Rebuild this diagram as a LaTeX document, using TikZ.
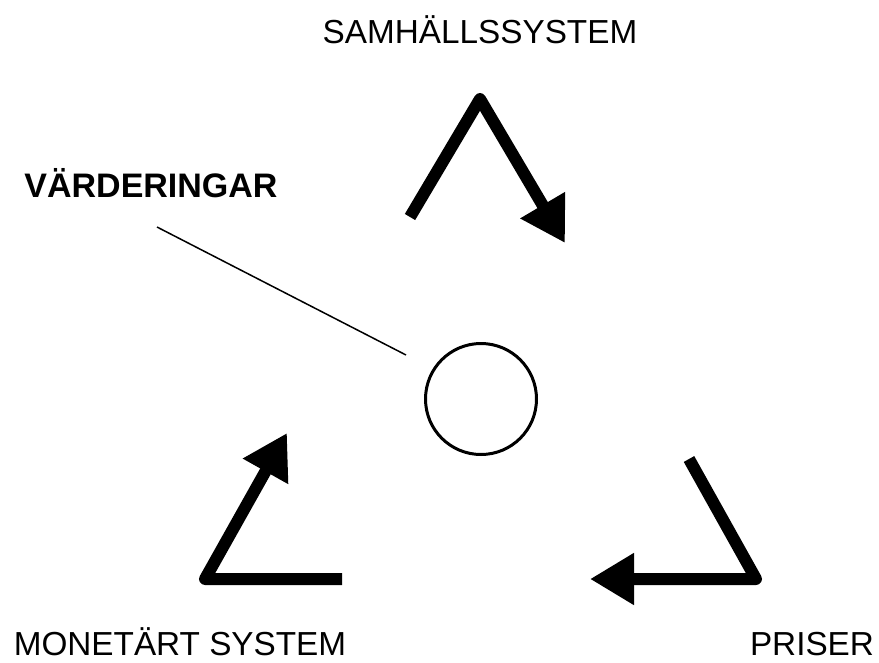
\documentclass[tikz,border=0pt]{standalone}
\usepackage{fontspec}
\setmainfont{Liberation Sans}
\usetikzlibrary{arrows.meta}
\begin{document}
\begin{tikzpicture}[x=1pt,y=-1pt,
  bigarrow/.style={line width=12pt,line join=round,line cap=butt,
    -{Triangle[length=44pt,width=49pt]}},
  lbl/.style={anchor=base,inner sep=0pt,font=\fontsize{33.3}{38}\selectfont},
  blbl/.style={lbl,font=\fontsize{34}{38}\selectfont\bfseries}]
\useasboundingbox (0,0) rectangle (879,662);
% labels
\node[lbl] (samh) at (480,43) {SAMHÄLLSSYSTEM};
\node[lbl] (mon) at (180,655) {MONETÄRT SYSTEM};
\node[lbl] (pris) at (812,655) {PRISER};
\node[blbl] (vard) at (151,197) {VÄRDERINGAR};
% circle
\node[draw,circle,line width=3pt,minimum size=111pt,inner sep=0pt] (circ) at (481,399) {};
% pointer line
\coordinate (p1) at (157,227);
\coordinate (p2) at (406,355);
\draw[line width=1.5pt] (p1) -- (p2);
% top arrow
\coordinate (t1) at (410,217);
\coordinate (a1) at (480,99);
\coordinate (h1) at (565,243);
\draw[bigarrow] (t1) -- (a1) -- (h1);
% bottom-right arrow
\coordinate (t2) at (689,459);
\coordinate (a2) at (756,579);
\coordinate (h2) at (590,579);
\draw[bigarrow] (t2) -- (a2) -- (h2);
% bottom-left arrow
\coordinate (t3) at (342,579);
\coordinate (a3) at (205,579);
\coordinate (h3) at (287,433);
\draw[bigarrow] (t3) -- (a3) -- (h3);
\end{tikzpicture}
\end{document}
